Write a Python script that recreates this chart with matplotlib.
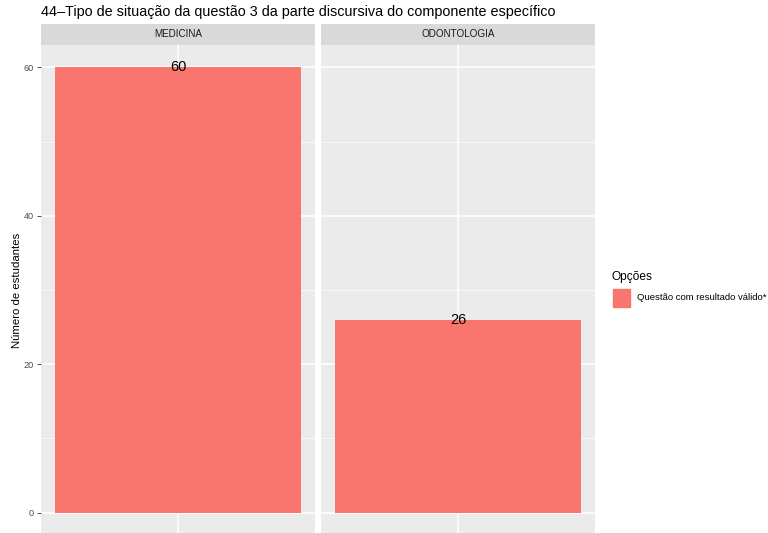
import matplotlib.pyplot as plt
from matplotlib.patches import Rectangle

plt.rcParams['font.family'] = ['Liberation Sans', 'DejaVu Sans']

# facet panels and counts
cursos = ["MEDICINA", "ODONTOLOGIA"]
estudantes = [60, 26]
opcao = "Questão com resultado válido*"
titulo = "44\u2013Tipo de situação da questão 3 da parte discursiva do componente específico"

W, H = 768, 533
fig = plt.figure(figsize=(W / 100, H / 100), dpi=100)

bar_col = "#F8766D"
panel_bg = "#EBEBEB"
strip_bg = "#D9D9D9"

panel_x = [41, 321]
panel_w = 274
panel_top, panel_bot = 45, 535
strip_top = 24


def fr(x, y, w, h):
    # pixel box (top-left origin) -> figure fraction
    return [x / W, 1 - (y + h) / H, w / W, h / H]


for i, (curso, val) in enumerate(zip(cursos, estudantes)):
    ax = fig.add_axes(fr(panel_x[i], panel_top, panel_w, panel_bot - panel_top))
    ax.set_facecolor(panel_bg)
    ax.set_xlim(0.5, 1.5)
    ax.set_ylim(-3, 63)
    for y in [10, 30, 50]:
        ax.axhline(y, color="white", lw=0.5, zorder=0)
    for y in [0, 20, 40, 60]:
        ax.axhline(y, color="white", lw=1.1, zorder=0)
    ax.axvline(1, color="white", lw=1.1, zorder=0)
    ax.bar([1], [val], width=0.9, color=bar_col, zorder=2)
    ax.text(1, val, str(val), ha="center", va="center", fontsize=10.5,
            color="black", zorder=3)
    for s in ax.spines.values():
        s.set_visible(False)
    ax.set_xticks([])
    ax.set_yticks([0, 20, 40, 60])
    if i == 0:
        ax.tick_params(axis="y", length=3, width=0.6, color="#333333",
                       labelsize=6.6, labelcolor="#4D4D4D", pad=2)
        ax.set_ylabel("Número de estudantes", fontsize=8.2, labelpad=1)
    else:
        ax.tick_params(axis="y", length=0, labelleft=False)

    sax = fig.add_axes(fr(panel_x[i], strip_top, panel_w, panel_top - strip_top))
    sax.set_facecolor(strip_bg)
    sax.set_xticks([])
    sax.set_yticks([])
    for s in sax.spines.values():
        s.set_visible(False)
    sax.text(0.5, 0.5, curso, ha="center", va="center", fontsize=7.1,
             color="#1A1A1A", transform=sax.transAxes)

fig.text(41 / W, 1 - 12 / H, titulo, ha="left", va="center", fontsize=10.4)

# legend
fig.text(612 / W, 1 - 277 / H, "Opções", ha="left", va="center", fontsize=8.6)
fig.patches.append(Rectangle((613 / W, 1 - 307 / H), 17 / W, 18 / H,
                             transform=fig.transFigure, color=bar_col))
fig.text(637 / W, 1 - 298 / H, opcao, ha="left", va="center", fontsize=6.8)

fig.savefig("out.png", dpi=100)
